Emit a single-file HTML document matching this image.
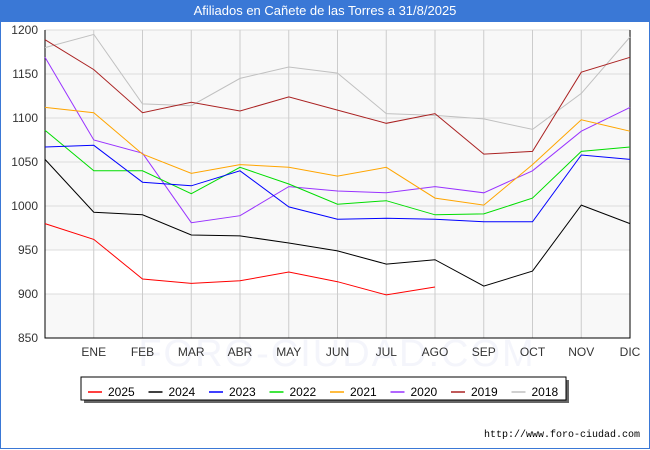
<!DOCTYPE html>
<html><head><meta charset="utf-8"><style>
body{margin:0;background:#fff;font-family:"Liberation Sans",sans-serif;}
#wrap{position:relative;width:650px;height:450px;background:#fff;}
#title{position:absolute;left:0;top:0;width:650px;height:22px;background:#3a78d6;color:#fff;font-size:13px;text-align:center;line-height:22px;}
#frame{position:absolute;left:0;top:22px;width:648px;height:426px;border:1px solid #3a78d6;border-top:none;}
</style></head><body>
<div id="wrap">
<div id="frame"></div>
<div id="title">Afiliados en Cañete de las Torres a 31/8/2025</div>
<svg id="svg" width="650" height="450" style="position:absolute;left:0;top:0"></svg>
</div>
<script>
const months=["","ENE","FEB","MAR","ABR","MAY","JUN","JUL","AGO","SEP","OCT","NOV","DIC"];
const yTicks=[850,900,950,1000,1050,1100,1150,1200];
const seriesNames=["2025","2024","2023","2022","2021","2020","2019","2018"];
const seriesColors=["#ff0000","#000000","#0000ff","#00dd00","#ffa500","#9933ff","#aa2222","#c0c0c0"];
const s2025=[980,962,917,912,915,925,914,899,908];
const s2024=[1053,993,990,967,966,958,949,934,939,909,926,1001,980];
const s2023=[1067,1069,1027,1023,1040,999,985,986,985,982,982,1058,1053];
const s2022=[1086,1040,1040,1014,1044,1025,1002,1006,990,991,1009,1062,1067];
const s2021=[1112,1106,1059,1037,1047,1044,1034,1044,1009,1001,1047,1098,1085];
const s2020=[1169,1075,1060,981,989,1022,1017,1015,1022,1015,1040,1085,1112];
const s2019=[1189,1155,1106,1118,1108,1124,1109,1094,1105,1059,1062,1152,1169];
const s2018=[1180,1195,1116,1114,1145,1158,1151,1105,1103,1099,1087,1128,1192];
const allSeries=[s2025,s2024,s2023,s2022,s2021,s2020,s2019,s2018];
const L=45,R=630,T=30,B=338,vmin=850,vmax=1200;
const X=i=>L+i*(R-L)/12;
const Y=v=>T+(vmax-v)*(B-T)/(vmax-vmin);
const svg=document.getElementById('svg');const NS="http://www.w3.org/2000/svg";
function mk(t,a,p){const e=document.createElementNS(NS,t);for(const k in a)e.setAttribute(k,a[k]);(p||svg).appendChild(e);return e;}
let bg=mk('rect',{x:L,y:T,width:R-L,height:B-T,fill:'#f8f8f8'});


let wb=mk('rect',{x:L,y:Y(950),width:R-L,height:Y(900)-Y(950),fill:'#ffffff'});


yTicks.forEach(v=>{
 let g=mk('line',{x1:L,x2:R,y1:Y(v),y2:Y(v),stroke:'#dddddd','stroke-width':1});
 
 
 let t=mk('text',{x:38,y:Y(v)+4,'text-anchor':'end','font-size':12,fill:'#333','font-family':'Liberation Sans'});
 t.textContent=v;
 
 
});
let wm=mk('text',{x:337,y:366,'text-anchor':'middle','font-size':38,fill:'#f4f5fb','font-family':'Liberation Sans','letter-spacing':2});
wm.textContent="FORO-CIUDAD.COM";


months.forEach((m,i)=>{
 if(i>0){let g=mk('line',{x1:X(i),x2:X(i),y1:T,y2:B,stroke:'#cccccc','stroke-width':1});
 
 }
 let t=mk('text',{x:X(i),y:356,'text-anchor':'middle','font-size':12,fill:'#333','font-family':'Liberation Sans'});
 t.textContent=m;
 
 
});
let ax=mk('path',{d:`M${L} ${T}V${B}H${R}V${T}`,fill:'none',stroke:'#000','stroke-width':1});


for(let s=allSeries.length-1;s>=0;s--){
 const pts=allSeries[s].map((v,i)=>X(i).toFixed(1)+','+Y(v).toFixed(1)).join(' ');
 let p=mk('polyline',{points:pts,fill:'none',stroke:seriesColors[s],'stroke-width':1});
 
 
}
let lg=mk('g',{});


mk('rect',{x:84,y:380,width:485,height:23,fill:'#666'},lg);
mk('rect',{x:81,y:377,width:485,height:23,fill:'#fff',stroke:'#000','stroke-width':1},lg);
seriesNames.forEach((n,i)=>{
 const x0=88+i*60.5;
 let l=mk('line',{x1:x0,x2:x0+14,y1:392,y2:392,stroke:seriesColors[i],'stroke-width':1.5},lg);
 
 
 let t=mk('text',{x:x0+20,y:396,'font-size':12,fill:'#000','font-family':'Liberation Sans'},lg);
 t.textContent=n;
 
 
});
let url=mk('text',{x:640,y:437,'text-anchor':'end','font-size':10,fill:'#000','font-family':'Liberation Mono'});
url.textContent="http://www.foro-ciudad.com";


</script>
</body></html>
